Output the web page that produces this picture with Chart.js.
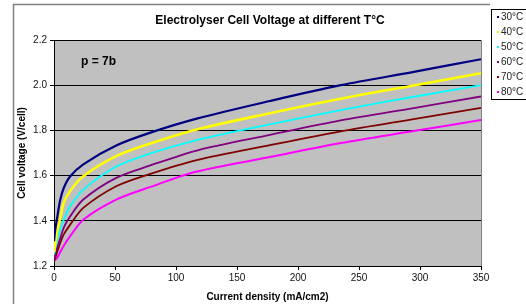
<!DOCTYPE html>
<html>
<head>
<meta charset="utf-8">
<script src="https://cdn.jsdelivr.net/npm/chart.js@4.4.1/dist/chart.umd.min.js"></script>
<style>
html,body{margin:0;padding:0;background:#fff;}
#wrap{width:526px;height:304px;position:relative;}
</style>
</head>
<body>
<div id="wrap"><canvas id="c" width="526" height="304"></canvas></div>
<script>
// ---- data ----
const currentDensity = [0, 1, 2.5, 5, 8, 13, 24, 51, 79, 117, 177, 235, 296, 350];
const temps = ["30°C", "40°C", "50°C", "60°C", "70°C", "80°C"];
const v30 = [1.31, 1.36, 1.41, 1.49, 1.545, 1.595, 1.65, 1.733, 1.79, 1.852, 1.93, 2.0, 2.06, 2.115];
const v40 = [1.26, 1.30, 1.35, 1.41, 1.48, 1.53, 1.597, 1.686, 1.742, 1.804, 1.876, 1.94, 2.0, 2.053];
const v50 = [1.25, 1.28, 1.31, 1.36, 1.405, 1.462, 1.538, 1.64, 1.698, 1.757, 1.827, 1.89, 1.95, 2.0];
const v60 = [1.23, 1.25, 1.28, 1.32, 1.37, 1.418, 1.494, 1.59, 1.645, 1.711, 1.78, 1.844, 1.90, 1.95];
const v70 = [1.22, 1.235, 1.26, 1.30, 1.34, 1.381, 1.457, 1.553, 1.608, 1.669, 1.735, 1.796, 1.851, 1.90];
const v80 = [1.225, 1.228, 1.235, 1.26, 1.29, 1.33, 1.405, 1.494, 1.55, 1.618, 1.682, 1.744, 1.798, 1.846];
const yTicks = [1.2, 1.4, 1.6, 1.8, 2.0, 2.2];
const xTicks = [0, 50, 100, 150, 200, 250, 300, 350];
const titleText = "Electrolyser Cell Voltage at different T°C";
const noteText = "p = 7b";
const xTitle = "Current density (mA/cm2)";
const yTitle = "Cell voltage (V/cell)";

const seriesValues = [v30, v40, v50, v60, v70, v80];
const colors = ["#000080", "#FFFF00", "#00FFFF", "#800080", "#800000", "#FF00FF"];
const widths = [2.2, 2.6, 1.8, 1.8, 1.8, 2.0];
const FONT = "'Liberation Sans', Arial, sans-serif";

const datasets = temps.map((t, k) => ({
  label: t,
  data: currentDensity.map((x, i) => ({x: x, y: seriesValues[k][i]})),
  borderColor: colors[k],
  backgroundColor: colors[k],
  borderWidth: widths[k],
  pointRadius: 0,
  tension: 0.3,
  fill: false
}));

const decor = {
  id: 'decor',
  beforeDraw(chart) {
    const {ctx, chartArea: a} = chart;
    ctx.save();
    ctx.fillStyle = '#fff';
    ctx.fillRect(0, 0, chart.width, chart.height);
    ctx.strokeStyle = '#808080';
    ctx.lineWidth = 1.5;
    ctx.beginPath();
    ctx.moveTo(13.5, 310);
    ctx.lineTo(13.5, 4.5);
    ctx.lineTo(490, 4.5);
    ctx.stroke();
    ctx.fillStyle = '#C0C0C0';
    ctx.fillRect(a.left, a.top, a.right - a.left, a.bottom - a.top);
    ctx.strokeStyle = '#808080';
    ctx.lineWidth = 1;
    ctx.beginPath();
    ctx.moveTo(a.left, a.top + 0.5);
    ctx.lineTo(a.right + 0.5, a.top + 0.5);
    ctx.lineTo(a.right + 0.5, a.bottom);
    ctx.stroke();
    ctx.restore();
  },
  afterDraw(chart) {
    const {ctx} = chart;
    ctx.save();
    ctx.fillStyle = '#000';
    ctx.font = "bold 12px " + FONT;
    ctx.textBaseline = 'middle';
    ctx.textAlign = 'left';
    ctx.fillText(noteText, 81, 62);
    ctx.fillStyle = '#fff';
    ctx.fillRect(491.5, 9.5, 40, 90);
    ctx.strokeStyle = '#000';
    ctx.lineWidth = 1;
    ctx.strokeRect(491.5, 9.5, 40, 90);
    ctx.font = "10px " + FONT;
    chart.data.datasets.forEach((ds, i) => {
      const y = 17 + i * 15;
      ctx.fillStyle = ds.borderColor;
      ctx.fillRect(497, y - 1, 2, 2);
      ctx.fillStyle = '#222';
      ctx.fillText(ds.label, 501, y);
    });
    ctx.restore();
  }
};

new Chart(document.getElementById('c'), {
  type: 'line',
  data: {datasets},
  plugins: [decor],
  options: {
    responsive: false,
    animation: false,
    layout: {padding: {left: 14, right: 0, top: 0, bottom: 0}},
    plugins: {
      legend: {display: false},
      tooltip: {enabled: false},
      title: {
        display: true,
        text: titleText,
        color: '#000',
        font: {family: FONT, size: 12, weight: 'bold'},
        padding: {top: 13, bottom: 12.6}
      }
    },
    scales: {
      x: {
        type: 'linear',
        min: 0, max: 350,
        afterBuildTicks: s => { s.ticks = xTicks.map(v => ({value: v})); },
        afterFit: s => { s.height = 38; },
        ticks: {color: '#111', font: {family: FONT, size: 10}, padding: 2, maxRotation: 0, callback: v => String(v)},
        grid: {drawOnChartArea: false, color: '#000', tickLength: 4, tickColor: '#000'},
        border: {display: true, color: '#000', width: 1},
        title: {display: true, text: xTitle, color: '#000', font: {family: FONT, size: 10, weight: 'bold'}, padding: {top: 0, bottom: 1}}
      },
      y: {
        type: 'linear',
        min: 1.2, max: 2.2,
        afterBuildTicks: s => { s.ticks = yTicks.map(v => ({value: v})); },
        afterFit: s => { s.width = 40; },
        ticks: {color: '#111', font: {family: FONT, size: 10}, padding: 3, callback: v => v.toFixed(1)},
        grid: {color: '#000', lineWidth: 1, tickLength: 4, tickColor: '#000', drawTicks: true},
        border: {display: true, color: '#000', width: 1},
        title: {display: true, text: yTitle, color: '#000', font: {family: FONT, size: 10, weight: 'bold'}, padding: {top: 2, bottom: 0}}
      },
      yR: {
        type: 'linear',
        position: 'right',
        display: true,
        min: 0, max: 1,
        ticks: {display: false},
        grid: {display: false},
        border: {display: false},
        afterFit: s => { s.width = 45; }
      }
    }
  }
});
</script>
</body>
</html>
